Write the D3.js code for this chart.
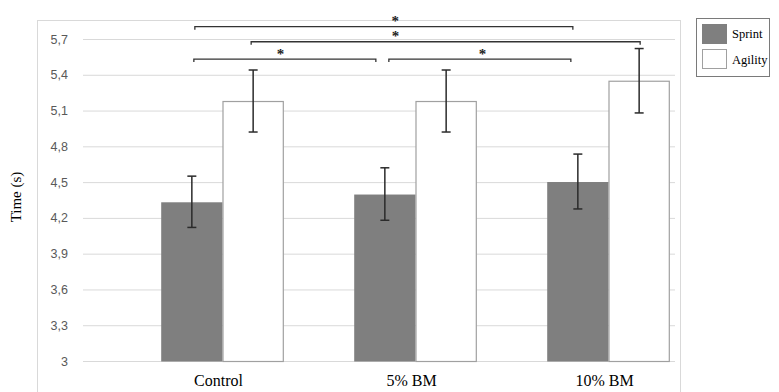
<!DOCTYPE html>
<html><head><meta charset="utf-8">
<script src="https://cdn.jsdelivr.net/npm/d3@7"></script>
<style>body{margin:0;background:#fff}svg{display:block}</style>
</head><body>
<script>
const categories = ["Control", "5% BM", "10% BM"];
const series = ["Sprint", "Agility"];
const sprintMean = [4.335, 4.40, 4.505];
const sprintSD = [0.215, 0.22, 0.23];
const agilityMean = [5.18, 5.18, 5.35];
const agilitySD = [0.26, 0.26, 0.27];
const yTicks = [3, 3.3, 3.6, 3.9, 4.2, 4.5, 4.8, 5.1, 5.4, 5.7];
// significance brackets
const brackets = [
  {from: ["Control", "Sprint"], to: ["10% BM", "Sprint"], level: 5.803, trimStart: 3, trimEnd: 5, starAt: 0.53},
  {from: ["Control", "Agility"], to: ["10% BM", "Agility"], level: 5.677, trimStart: -2, trimEnd: -1, starAt: 0.371},
  {from: ["Control", "Sprint"], to: ["5% BM", "Sprint"], level: 5.532, trimStart: 2, trimEnd: 9, starAt: 0.476},
  {from: ["5% BM", "Sprint"], to: ["10% BM", "Sprint"], level: 5.532, trimStart: 4, trimEnd: 7, starAt: 0.515}
];

const W = 779, H = 392;
const svg = d3.select("body").append("svg").attr("width", W).attr("height", H);

const y = d3.scaleLinear().domain([3, 5.7]).range([361, 39]);
const x0 = d3.scaleBand().domain(categories).range([126, 705]);
const x1 = d3.scaleBand().domain(series).range([0, 122.6]);
const groupOff = (x0.bandwidth() - 122.6) / 2;
const barX = (c, s) => x0(c) + groupOff + x1(s);
const barC = (c, s) => barX(c, s) + x1.bandwidth() / 2;

// chart outer frame
svg.append("rect").attr("x", 37.5).attr("y", 20.5).attr("width", 643).attr("height", 380)
  .attr("fill", "none").attr("stroke", "#d9d9d9");

// gridlines + y axis labels
const yAxis = d3.axisLeft(y).tickValues(yTicks).tickSize(-(675 - 83)).tickPadding(15)
  .tickFormat(d => String(d).replace(".", ","));
const ga = svg.append("g").attr("transform", "translate(83,0)").call(yAxis);
ga.select(".domain").remove();
ga.selectAll(".tick line").attr("stroke", "#d9d9d9").attr("stroke-width", 1);
ga.selectAll(".tick text").attr("fill", "#595959").style("font-family", "'Liberation Sans', Arial, sans-serif").style("font-size", "12.5px");

svg.append("text").attr("transform", "translate(21,197) rotate(-90)")
  .attr("text-anchor", "middle").style("font-family", "'Liberation Serif', 'Times New Roman', serif")
  .style("font-size", "15px").attr("fill", "#000").text("Time (s)");

// bars
const rows = [];
categories.forEach((c, i) => {
  rows.push({c, s: "Sprint", m: sprintMean[i], sd: sprintSD[i]});
  rows.push({c, s: "Agility", m: agilityMean[i], sd: agilitySD[i]});
});
svg.append("g").selectAll("rect").data(rows).join("rect")
  .attr("x", d => barX(d.c, d.s) + (d.s === "Agility" ? 0.5 : 0))
  .attr("y", d => y(d.m) + 0.5)
  .attr("width", d => x1.bandwidth() - (d.s === "Agility" ? 1 : 0))
  .attr("height", d => y(3) - y(d.m))
  .attr("fill", d => d.s === "Sprint" ? "#7f7f7f" : "#ffffff")
  .attr("stroke", d => d.s === "Sprint" ? "none" : "#a0a0a0")
  .attr("stroke-width", 1.2);

// error bars
const eb = svg.append("g").attr("stroke", "#2b2b2b").attr("stroke-width", 1.5);
rows.forEach(d => {
  const cx = barC(d.c, d.s);
  eb.append("line").attr("x1", cx).attr("x2", cx).attr("y1", y(d.m + d.sd)).attr("y2", y(d.m - d.sd));
  [d.m + d.sd, d.m - d.sd].forEach(v => {
    eb.append("line").attr("x1", cx - 4.5).attr("x2", cx + 4.5).attr("y1", y(v)).attr("y2", y(v));
  });
});

// significance brackets
const bg = svg.append("g");
brackets.forEach(b => {
  const xa = barC(...b.from) + (b.trimStart || 0);
  const xb = barC(...b.to) - (b.trimEnd || 0);
  const yy = y(b.level);
  bg.append("path").attr("d", `M${xa},${yy + 3}V${yy}H${xb}V${yy + 3}`)
    .attr("fill", "none").attr("stroke", "#333").attr("stroke-width", 1.3);
  bg.append("text").attr("x", xa + (xb - xa) * b.starAt).attr("y", yy - 0.5).attr("text-anchor", "middle")
    .style("font-family", "'Liberation Serif', 'Times New Roman', serif").style("font-size", "15px")
    .style("font-weight", "bold").attr("fill", "#222").text("*");
});

// x labels
svg.append("g").selectAll("text").data(categories).join("text")
  .attr("x", d => x0(d) + x0.bandwidth() / 2 - 4).attr("y", 386)
  .attr("text-anchor", "middle").style("font-family", "'Liberation Serif', 'Times New Roman', serif")
  .style("font-size", "16px").attr("fill", "#000").text(d => d);

// legend
const lg = svg.append("g");
lg.append("rect").attr("x", 696.5).attr("y", 18.5).attr("width", 73).attr("height", 58)
  .attr("fill", "#fff").attr("stroke", "#7a7a7a").attr("stroke-width", 1);
series.forEach((s, i) => {
  lg.append("rect").attr("x", 702.5).attr("y", 24.5 + i * 25).attr("width", 24).attr("height", 19)
    .attr("fill", s === "Sprint" ? "#7f7f7f" : "#fff").attr("stroke", s === "Sprint" ? "#7f7f7f" : "#a0a0a0");
  lg.append("text").attr("x", 732).attr("y", 38 + i * 25.5)
    .style("font-family", "'Liberation Serif', 'Times New Roman', serif").style("font-size", "12.5px")
    .attr("fill", "#000").text(s);
});
</script>
</body></html>
